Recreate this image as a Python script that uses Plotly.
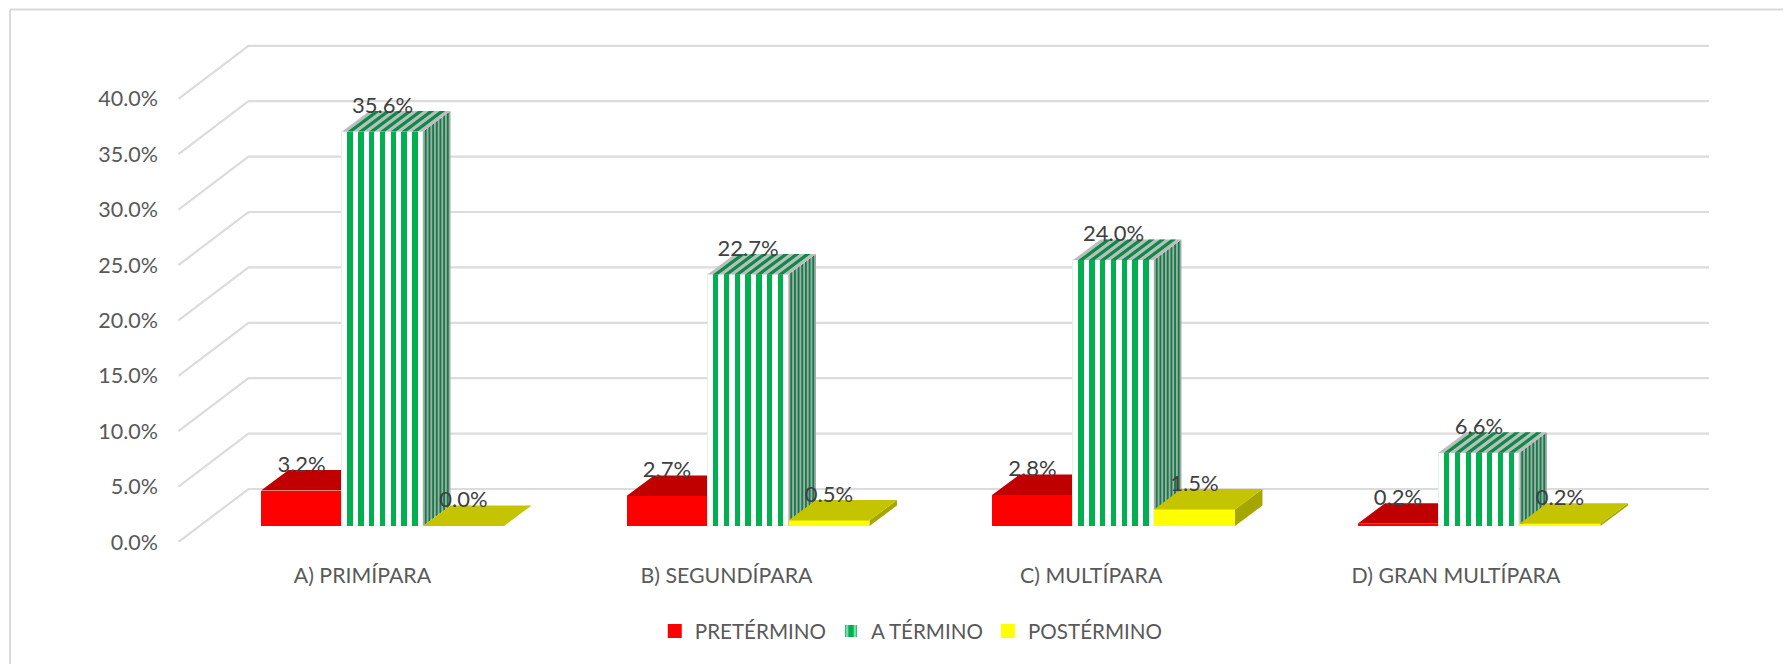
import plotly.graph_objects as go

# chart data
categories = ["A) PRIMÍPARA", "B) SEGUNDÍPARA", "C) MULTÍPARA", "D) GRAN MULTÍPARA"]
label_positions = [-0.055, 0.941, 1.939, 2.937]
pretermino = [3.2, 2.7, 2.8, 0.2]
a_termino = [35.6, 22.7, 24.0, 6.6]
postermino = [0.0, 0.5, 1.5, 0.2]
axis_ticks = [0, 5, 10, 15, 20, 25, 30, 35, 40]
axis_labels = ["0.0%", "5.0%", "10.0%", "15.0%", "20.0%", "25.0%", "30.0%", "35.0%", "40.0%"]

# page geometry, in pixels; the page body adds an 8px margin around the figure
BODY = 8
WIDTH, HEIGHT = 1791 - BODY, 664 - BODY
PLOT_LEFT, PLOT_BOTTOM, PLOT_TOP = 158.5 - BODY, 542 - BODY, 10 - BODY
GROUP_PX, UNIT_PX = 365.6, 11.08
FIRST_GROUP_PX = 382.1 - BODY

# pseudo-3D geometry, in data units
BAR_W = 81 / GROUP_PX
BAR_BASE = 16 / UNIT_PX
DEPTH_X, DEPTH_Y = 27.5 / GROUP_PX, 20.5 / UNIT_PX
WALL_X, WALL_Y = 70 / GROUP_PX, 53 / UNIT_PX
WALL_LEFT = (178 - BODY - FIRST_GROUP_PX) / GROUP_PX
WALL_RIGHT = (1709 - BODY - FIRST_GROUP_PX) / GROUP_PX
STRIPES = 7
STRIPE_W = BAR_W / (2 * STRIPES + 1)

TEXT_FONT = "Lato"
GRID = "#DCDCDC"


def join_polygons(polys):
    xs, ys = [], []
    for px, py in polys:
        xs += list(px) + [px[0], None]
        ys += list(py) + [py[0], None]
    return xs, ys


def polygon_trace(polys, color, axis):
    xs, ys = join_polygons(polys)
    return go.Scatter(x=xs, y=ys, mode="lines", fill="toself", fillcolor=color,
                      line=dict(width=0), hoverinfo="skip", showlegend=False,
                      xaxis="x" + axis, yaxis="y" + axis)


def top_face(x0, value, x_from=0.0, x_to=BAR_W):
    y = BAR_BASE + value
    return ([x0 + x_from, x0 + x_to, x0 + x_to + DEPTH_X, x0 + x_from + DEPTH_X],
            [y, y, y + DEPTH_Y, y + DEPTH_Y])


def side_face(x0, value, f_from=0.0, f_to=1.0):
    x = x0 + BAR_W
    lo, hi = BAR_BASE, BAR_BASE + value
    return ([x + DEPTH_X * f_from, x + DEPTH_X * f_to, x + DEPTH_X * f_to, x + DEPTH_X * f_from],
            [lo + DEPTH_Y * f_from, lo + DEPTH_Y * f_to, hi + DEPTH_Y * f_to, hi + DEPTH_Y * f_from])


def solid_series(values, offset, front, top, side, name, axis):
    lefts = [i + offset for i in range(len(values))]
    return [
        go.Bar(x=[x + BAR_W / 2 for x in lefts], y=values, base=BAR_BASE, width=BAR_W, showlegend=False,
               marker=dict(color=front, line=dict(width=0)), hoverinfo="skip",
               xaxis="x" + axis, yaxis="y" + axis),
        # no data here, this entry only gives the legend a larger swatch
        go.Bar(x=[None], y=[None], name=name, hoverinfo="skip", xaxis="x" + axis, yaxis="y" + axis,
               marker=dict(color=front, line=dict(width=2, color=front))),
        polygon_trace([side_face(x, v) for x, v in zip(lefts, values)], side, axis),
        polygon_trace([top_face(x, v) for x, v in zip(lefts, values)], top, axis),
    ]


def striped_series(values, offset, name, axis):
    lefts = [i + offset for i in range(len(values))]
    centers = [x + BAR_W / 2 for x in lefts]
    stripe_x, stripe_y, tops, sides = [], [], [], []
    for x, v in zip(lefts, values):
        for s in range(STRIPES):
            a = STRIPE_W * (2 * s + 1)
            stripe_x.append(x + a + STRIPE_W / 2)
            stripe_y.append(v)
            tops.append(top_face(x, v, a, a + STRIPE_W))
            f = (2 * s + 1) / (2 * STRIPES + 1)
            sides.append(side_face(x, v, f, f + 1 / (2 * STRIPES + 1)))
    return [
        go.Bar(x=centers, y=values, base=BAR_BASE, width=BAR_W, showlegend=False,
               marker=dict(color="white", line=dict(width=1, color="#E3F3EA")), hoverinfo="skip",
               xaxis="x" + axis, yaxis="y" + axis),
        go.Bar(x=stripe_x, y=stripe_y, base=BAR_BASE, width=STRIPE_W, showlegend=False,
               marker=dict(color="#00B050", line=dict(width=0)), hoverinfo="skip",
               xaxis="x" + axis, yaxis="y" + axis),
        # legend swatch: white stripe between two green ones
        go.Bar(x=[None], y=[None], name=name, hoverinfo="skip", xaxis="x" + axis, yaxis="y" + axis,
               marker=dict(color="#00B050", line=dict(width=0),
                           pattern=dict(shape="|", size=12, solidity=0.34, fgcolor="white", bgcolor="#00B050"))),
        polygon_trace([side_face(x, v) for x, v in zip(lefts, values)], "#A3ABA7", axis),
        polygon_trace(sides, "#0F7F48", axis),
        polygon_trace([top_face(x, v) for x, v in zip(lefts, values)], "#BDBDBD", axis),
        polygon_trace(tops, "#0A8C48", axis),
    ]


fig = go.Figure()

# floor-to-wall gridlines
grid_x, grid_y = [], []
for tick in axis_ticks:
    grid_x += [WALL_LEFT, WALL_LEFT + WALL_X, WALL_RIGHT, None]
    grid_y += [tick, tick + WALL_Y, tick + WALL_Y, None]
fig.add_trace(go.Scatter(x=grid_x, y=grid_y, mode="lines", line=dict(color=GRID, width=2.2),
                         hoverinfo="skip", showlegend=False))

fig.add_traces(solid_series(pretermino, -BAR_W * 1.5, "#FF0000", "#C00000", "#A00000", "PRETÉRMINO", "2"))
fig.add_traces(striped_series(a_termino, -BAR_W * 0.5, "A TÉRMINO", "3"))
fig.add_traces(solid_series(postermino, BAR_W * 0.5, "#FFFF00", "#C4C400", "#A6A600", "POSTÉRMINO", "4"))

# value labels, centred above each front face
for values, offset in [(pretermino, -BAR_W), (a_termino, 0), (postermino, BAR_W)]:
    fig.add_trace(go.Scatter(x=[i + offset for i in range(len(values))],
                             y=[BAR_BASE + v + 2.2 for v in values],
                             text=[f"{v:.1f}%" for v in values], mode="text", textposition="middle center",
                             textfont=dict(family=TEXT_FONT, size=22, color="#404040"),
                             hoverinfo="skip", showlegend=False, xaxis="x4", yaxis="y4"))

x_range = [(PLOT_LEFT - FIRST_GROUP_PX) / GROUP_PX, (WIDTH - FIRST_GROUP_PX) / GROUP_PX]
y_range = [0, (PLOT_BOTTOM - PLOT_TOP) / UNIT_PX]
hidden = dict(visible=False, fixedrange=True)


def paper_x(px):
    return (px - BODY - PLOT_LEFT) / (WIDTH - PLOT_LEFT)


def paper_y(px):
    return (PLOT_BOTTOM - (px - BODY)) / (PLOT_BOTTOM - PLOT_TOP)


fig.update_layout(
    width=WIDTH, height=HEIGHT,
    margin=dict(l=PLOT_LEFT, r=0, t=PLOT_TOP, b=HEIGHT - PLOT_BOTTOM, pad=0),
    paper_bgcolor="white", plot_bgcolor="white",
    barmode="overlay", bargap=0,
    font=dict(family=TEXT_FONT, size=21.5, color="#595959"),
    xaxis=dict(range=x_range, tickmode="array", tickvals=label_positions, ticktext=categories,
               showgrid=False, zeroline=False, showline=False, ticks="", ticklabelstandoff=19,
               tickangle=0, tickfont=dict(size=21.3)),
    yaxis=dict(range=y_range, tickmode="array", tickvals=axis_ticks, ticktext=axis_labels,
               showgrid=False, zeroline=False, showline=False, ticks=""),
    xaxis2=dict(range=x_range, overlaying="x", **hidden), yaxis2=dict(range=y_range, overlaying="y", **hidden),
    xaxis3=dict(range=x_range, overlaying="x", **hidden), yaxis3=dict(range=y_range, overlaying="y", **hidden),
    xaxis4=dict(range=x_range, overlaying="x", **hidden), yaxis4=dict(range=y_range, overlaying="y", **hidden),
    legend=dict(orientation="h", x=paper_x(911), xanchor="center", y=paper_y(631), yanchor="middle",
                font=dict(family=TEXT_FONT, size=20.6, color="#595959")),
    shapes=[
        dict(type="line", xref="paper", yref="paper", layer="below", line=dict(color="#D9D9D9", width=2),
             x0=paper_x(9.5), x1=paper_x(9.5), y0=paper_y(9.5), y1=paper_y(664)),
        dict(type="line", xref="paper", yref="paper", layer="below", line=dict(color="#D9D9D9", width=2),
             x0=paper_x(9.5), x1=1, y0=paper_y(9.5), y1=paper_y(9.5)),
    ],
)

fig.write_html("out.html")
